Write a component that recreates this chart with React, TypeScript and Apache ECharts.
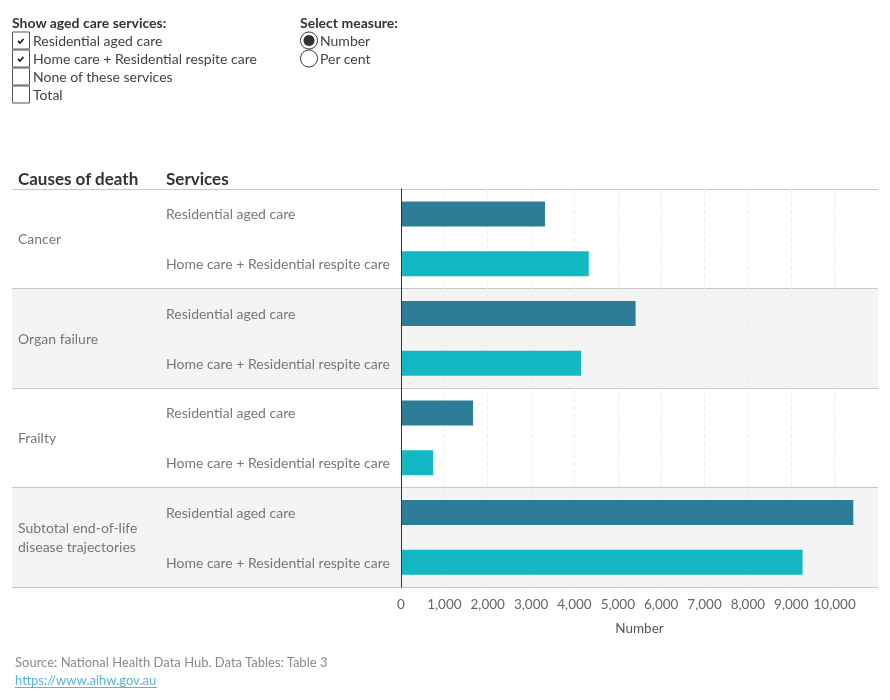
import React, { useEffect, useRef } from "react";
import * as echarts from "echarts";

const causes = ["Cancer", "Organ failure", "Frailty", "Subtotal end-of-life disease trajectories"];
const causeLabels = ["Cancer", "Organ failure", "Frailty", "Subtotal end-of-life\ndisease trajectories"];
const services = ["Residential aged care", "Home care + Residential respite care"];
const residentialValues = [3320, 5410, 1660, 10430];
const homeCareValues = [4330, 4150, 740, 9260];
const serviceColors = ["#2d7d98", "#14b8c5"];
const xTicksMax = 11000;
const xTickStep = 1000;
const checkboxItems = ["Residential aged care", "Home care + Residential respite care", "None of these services", "Total"];
const checkboxChecked = [true, true, false, false];
const measureItems = ["Number", "Per cent"];

const FONT = "Lato, 'Noto Sans', sans-serif";
const GRID = { left: 401, right: 12, top: 189, bottom: 113 };
const W = 890;
const H = 700;

export default function App() {
  const ref = useRef<HTMLDivElement>(null);
  useEffect(() => {
    if (!ref.current) return;
    const chart = echarts.init(ref.current, undefined, { renderer: "svg" });

    const cats: string[] = [];
    const data: any[] = [];
    causes.forEach((c, i) => {
      const vals = [residentialValues[i], homeCareValues[i]];
      services.forEach((s, j) => {
        cats.push(c + "|" + s);
        data.push({ value: vals[j], itemStyle: { color: serviceColors[j] } });
      });
    });

    const gridH = H - GRID.top - GRID.bottom;
    const groupH = gridH / causes.length;
    const graphics: any[] = [];
    causes.forEach((c, i) => {
      if (i % 2 === 1) {
        graphics.push({
          type: "rect",
          z: -10,
          silent: true,
          shape: { x: 12, y: GRID.top + i * groupH, width: W - GRID.right - 12, height: groupH },
          style: { fill: "#f4f4f4" },
        });
      }
    });
    // header
    graphics.push({ type: "text", x: 18, y: 178, style: { text: "Causes of death", font: `bold 17px ${FONT}`, fill: "#333", verticalAlign: "middle" } });
    graphics.push({ type: "text", x: 166, y: 178, style: { text: "Services", font: `bold 17px ${FONT}`, fill: "#333", verticalAlign: "middle" } });

    // controls
    graphics.push({ type: "text", x: 12, y: 22, style: { text: "Show aged care services:", font: `bold 14px ${FONT}`, fill: "#333", verticalAlign: "middle" } });
    checkboxItems.forEach((t, i) => {
      const cy = 40.5 + i * 18;
      graphics.push({ type: "rect", shape: { x: 12.5, y: cy - 8.5, width: 17, height: 17 }, style: { fill: "#fff", stroke: "#555", lineWidth: 1 } });
      if (checkboxChecked[i]) {
        graphics.push({ type: "polyline", shape: { points: [[18, cy + 0.5], [20, cy + 2.5], [23.5, cy - 1.5]] }, style: { stroke: "#222", lineWidth: 1.8, fill: "none" } });
      }
      graphics.push({ type: "text", x: 33, y: cy - 0.5, style: { text: t, font: `14px ${FONT}`, fill: "#4a4040", verticalAlign: "middle" } });
    });
    graphics.push({ type: "text", x: 300, y: 22, style: { text: "Select measure:", font: `bold 14px ${FONT}`, fill: "#333", verticalAlign: "middle" } });
    measureItems.forEach((t, i) => {
      const cy = 40.5 + i * 18;
      graphics.push({ type: "circle", shape: { cx: 309, cy, r: 8.5 }, style: { fill: "#fff", stroke: "#333", lineWidth: 1 } });
      if (i === 0) graphics.push({ type: "circle", shape: { cx: 309, cy, r: 5.5 }, style: { fill: "#333" } });
      graphics.push({ type: "text", x: 320, y: cy - 0.5, style: { text: t, font: `14px ${FONT}`, fill: "#4a4040", verticalAlign: "middle" } });
    });

    // source
    graphics.push({ type: "text", x: 15, y: 662, style: { text: "Source: National Health Data Hub. Data Tables: Table 3", font: `13px ${FONT}`, fill: "#8a8a8a", verticalAlign: "middle" } });
    graphics.push({ type: "text", x: 15, y: 680, style: { text: "https://www.aihw.gov.au", font: `13px ${FONT}`, fill: "#5ab4d6", verticalAlign: "middle" } });
    graphics.push({ type: "line", shape: { x1: 15, y1: 687.5, x2: 157, y2: 687.5 }, style: { stroke: "#5ab4d6", lineWidth: 1 } });

    chart.setOption({
      animation: false,
      textStyle: { fontFamily: FONT },
      grid: { ...GRID, containLabel: false },
      graphic: graphics,
      xAxis: {
        type: "value",
        min: 0,
        max: xTicksMax,
        interval: xTickStep,
        axisLine: { show: false },
        axisTick: { show: false },
        axisLabel: {
          color: "#666",
          fontSize: 13.5,
          margin: 10,
          showMaxLabel: false,
          formatter: (v: number) => (v >= xTicksMax ? "" : v.toLocaleString("en-US")),
        },
        splitLine: { show: true, showMaxLine: false, lineStyle: { color: "#ececec", type: [4, 3], width: 1 } },
        name: "Number",
        nameLocation: "middle",
        nameGap: 34,
        nameTextStyle: { color: "#555", fontSize: 13.5 },
      },
      yAxis: [
        {
          type: "category",
          data: cats,
          inverse: true,
          position: "left",
          axisLine: { show: true, lineStyle: { color: "#333", width: 1 } },
          axisTick: { show: false },
          axisLabel: {
            align: "left",
            margin: 235,
            color: "#777",
            fontSize: 14,
            formatter: (v: string) => v.split("|")[1],
          },
          z: 5,
        },
        {
          type: "category",
          data: causeLabels,
          inverse: true,
          position: "left",
          axisLine: { show: false },
          axisTick: { show: true, length: 389, interval: 0, lineStyle: { color: "#c8c8c8", width: 1 } },
          axisLabel: { align: "left", margin: 383, color: "#777", fontSize: 14, lineHeight: 19, interval: 0 },
          splitLine: { show: true, interval: 0, lineStyle: { color: "#c8c8c8", width: 1 } },
        },
      ],
      series: [
        {
          type: "bar",
          name: "Number",
          yAxisIndex: 0,
          data,
          barWidth: 25,
          z: 3,
        },
      ],
    });
    return () => chart.dispose();
  }, []);
  return <div ref={ref} style={{ position: "fixed", left: 0, top: 0, width: W, height: H }} />;
}
